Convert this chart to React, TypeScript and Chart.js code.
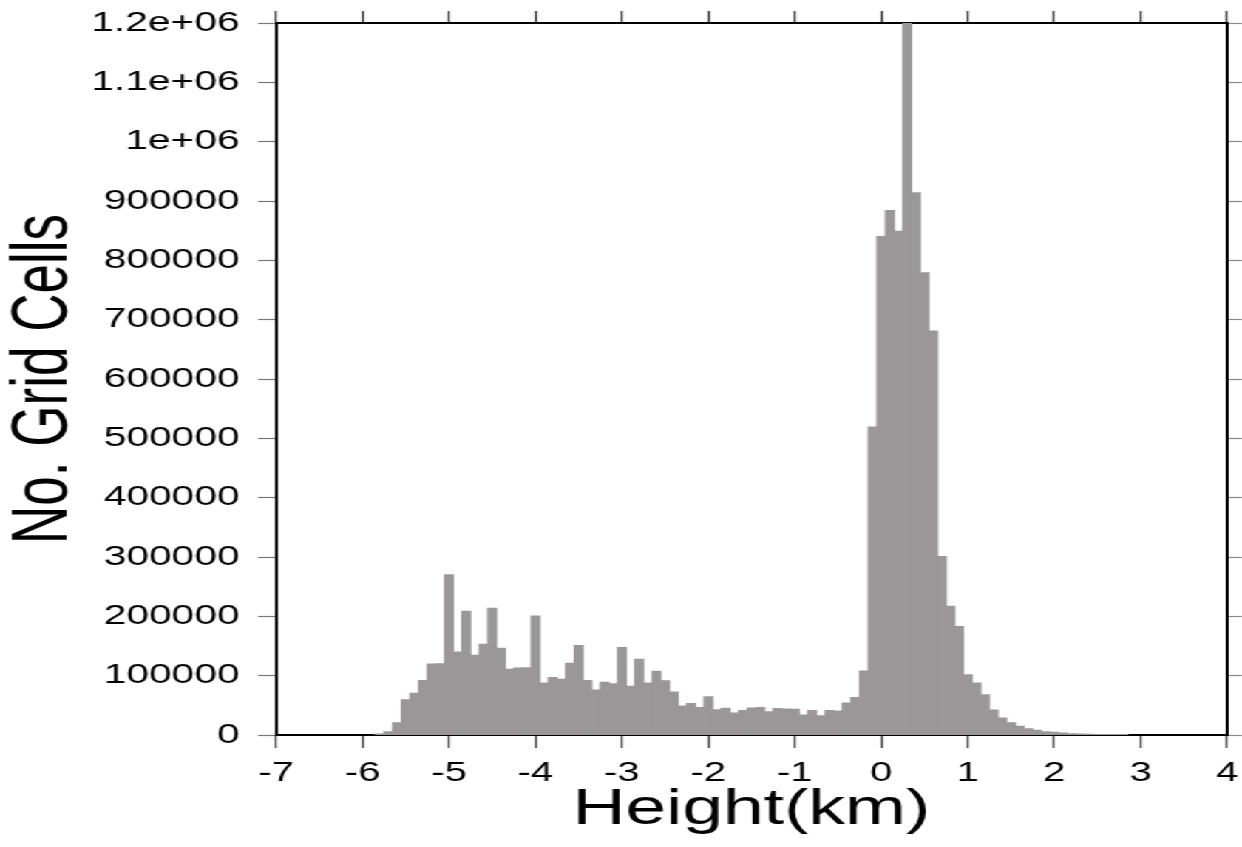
import React, { useEffect, useRef } from "react";
import { Chart, registerables } from "chart.js";

Chart.register(...registerables);

// ---- data ----
const binCenters: number[] = [
  -5.8, -5.7, -5.6, -5.5, -5.4, -5.3, -5.2, -5.1, -5.0, -4.9,
  -4.8, -4.7, -4.6, -4.5, -4.4, -4.3, -4.2, -4.1, -4.0, -3.9,
  -3.8, -3.7, -3.6, -3.5, -3.4, -3.3, -3.2, -3.1, -3.0, -2.9,
  -2.8, -2.7, -2.6, -2.5, -2.4, -2.3, -2.2, -2.1, -2.0, -1.9,
  -1.8, -1.7, -1.6, -1.5, -1.4, -1.3, -1.2, -1.1, -1.0, -0.9,
  -0.8, -0.7, -0.6, -0.5, -0.4, -0.3, -0.2, -0.1, 0.0, 0.1,
  0.2, 0.3, 0.4, 0.5, 0.6, 0.7, 0.8, 0.9, 1.0, 1.1,
  1.2, 1.3, 1.4, 1.5, 1.6, 1.7, 1.8, 1.9, 2.0, 2.1,
  2.2, 2.3, 2.4, 2.5, 2.6, 2.7, 2.8,
];

const cellCounts: number[] = [
  1500, 5500, 20500, 59500, 70500, 92000, 119500, 120000, 270000, 140000,
  208500, 134500, 153000, 213500, 146000, 111000, 113000, 113500, 200500, 87500,
  97000, 94000, 121000, 151000, 92000, 76000, 89000, 86500, 147500, 82000,
  127500, 87500, 107500, 91500, 72500, 49000, 53000, 46500, 64500, 42500,
  45000, 37000, 41500, 45500, 46500, 39000, 44500, 44000, 43500, 33500,
  41500, 32500, 41500, 40500, 54000, 63000, 108000, 519000, 840000, 884000,
  849000, 1200000, 914000, 779000, 681000, 301000, 217000, 183000, 101500, 87500,
  68000, 42000, 28700, 20800, 14600, 10700, 7900, 5600, 4500, 3400,
  2300, 1700, 1200, 800, 500, 300, 200,
];

const xTickValues: number[] = [-7, -6, -5, -4, -3, -2, -1, 0, 1, 2, 3, 4];
const xTickLabels: string[] = ["-7", "-6", "-5", "-4", "-3", "-2", "-1", "0", "1", "2", "3", "4"];
const yTickValues: number[] = [0, 100000, 200000, 300000, 400000, 500000, 600000, 700000, 800000, 900000, 1000000, 1100000, 1200000];
const yTickLabels: string[] = ["0", "100000", "200000", "300000", "400000", "500000", "600000", "700000", "800000", "900000", "1e+06", "1.1e+06", "1.2e+06"];

const xTitle = "Height(km)";
const yTitle = "No. Grid Cells";

// ---- layout (logical canvas, stretched horizontally) ----
const W = 840;
const H = 847;
const STRETCH = 1242 / W;
const FONT = "'Liberation Sans', Arial, Helvetica, sans-serif";
const BAR_COLOR = "rgb(155,151,153)";

const noPadX = (s: any) => {
  s.paddingLeft = 0;
  s.paddingRight = 0;
};
const noPadY = (s: any) => {
  s.paddingTop = 0;
  s.paddingBottom = 0;
};

export default function App() {
  const ref = useRef<HTMLCanvasElement>(null);

  useEffect(() => {
    const canvas = ref.current;
    if (!canvas) return;
    const chart = new Chart(canvas, {
      type: "bar",
      data: {
        datasets: [
          {
            data: binCenters.map((x, i) => ({ x, y: cellCounts[i] })),
            backgroundColor: BAR_COLOR,
            borderWidth: 0,
            barPercentage: 1,
            categoryPercentage: 1,
            inflateAmount: 0.5,
            xAxisID: "x",
            yAxisID: "y",
          } as any,
        ],
      },
      options: {
        responsive: false,
        maintainAspectRatio: false,
        animation: false,
        layout: { padding: 0 },
        plugins: { legend: { display: false }, tooltip: { enabled: false } },
        scales: {
          x: {
            type: "linear",
            position: "bottom",
            min: -7,
            max: 4,
            offset: false,
            afterBuildTicks: (s: any) => {
              s.ticks = xTickValues.map((v) => ({ value: v }));
            },
            afterFit: (s: any) => {
              s.height = 112;
              noPadX(s);
            },
            ticks: {
              autoSkip: false,
              maxRotation: 0,
              padding: 9,
              color: "#000",
              font: { family: FONT, size: 27 },
              callback: (_v: any, i: number) => xTickLabels[i],
            },
            grid: {
              offset: false,
              drawOnChartArea: false,
              drawTicks: true,
              tickLength: 13,
              tickColor: "#444",
              tickWidth: 1.4,
            },
            border: { display: true, color: "#000", width: 2 },
            title: {
              display: true,
              text: xTitle,
              color: "#000",
              font: { family: FONT, size: 49.5, lineHeight: 1.2 },
              padding: { top: 0, bottom: 7 },
            },
          },
          x2: {
            type: "linear",
            position: "top",
            min: -7,
            max: 4,
            offset: false,
            afterBuildTicks: (s: any) => {
              s.ticks = xTickValues.map((v) => ({ value: v }));
            },
            afterFit: (s: any) => {
              s.height = 23;
              noPadX(s);
            },
            ticks: { display: false },
            grid: {
              offset: false,
              drawOnChartArea: false,
              drawTicks: true,
              tickLength: 12,
              tickColor: "#333",
              tickWidth: 1.4,
            },
            border: { display: true, color: "#000", width: 2 },
          },
          y: {
            type: "linear",
            position: "left",
            min: 0,
            max: 1200000,
            afterBuildTicks: (s: any) => {
              s.ticks = yTickValues.map((v) => ({ value: v }));
            },
            afterFit: (s: any) => {
              s.width = 186.7;
              noPadY(s);
            },
            ticks: {
              autoSkip: false,
              padding: 12.5,
              color: "#000",
              font: { family: FONT, size: 27.5 },
              callback: (_v: any, i: number) => yTickLabels[i],
            },
            grid: {
              drawOnChartArea: false,
              drawTicks: true,
              tickLength: 12.2,
              tickColor: "#777",
              tickWidth: 1.2,
            },
            border: { display: true, color: "#000", width: 2 },
            title: {
              display: true,
              text: yTitle,
              color: "#000",
              font: { family: FONT, size: 53, lineHeight: 1 },
              padding: { top: 4, bottom: 0 },
            },
          },
          y2: {
            type: "linear",
            position: "right",
            min: 0,
            max: 1200000,
            afterBuildTicks: (s: any) => {
              s.ticks = yTickValues.map((v) => ({ value: v }));
            },
            afterFit: (s: any) => {
              s.width = W - 829.9;
              noPadY(s);
            },
            ticks: { display: false },
            grid: {
              drawOnChartArea: false,
              drawTicks: true,
              tickLength: 10,
              tickColor: "#888",
              tickWidth: 1.2,
            },
            border: { display: true, color: "#000", width: 2 },
          },
        },
      } as any,
    });
    return () => chart.destroy();
  }, []);

  return (
    <div
      style={{
        position: "absolute",
        left: 0,
        top: 0,
        width: W,
        height: H,
        background: "#fff",
        transform: `scaleX(${STRETCH})`,
        transformOrigin: "0 0",
      }}
    >
      <canvas ref={ref} width={W} height={H} style={{ display: "block" }} />
    </div>
  );
}
